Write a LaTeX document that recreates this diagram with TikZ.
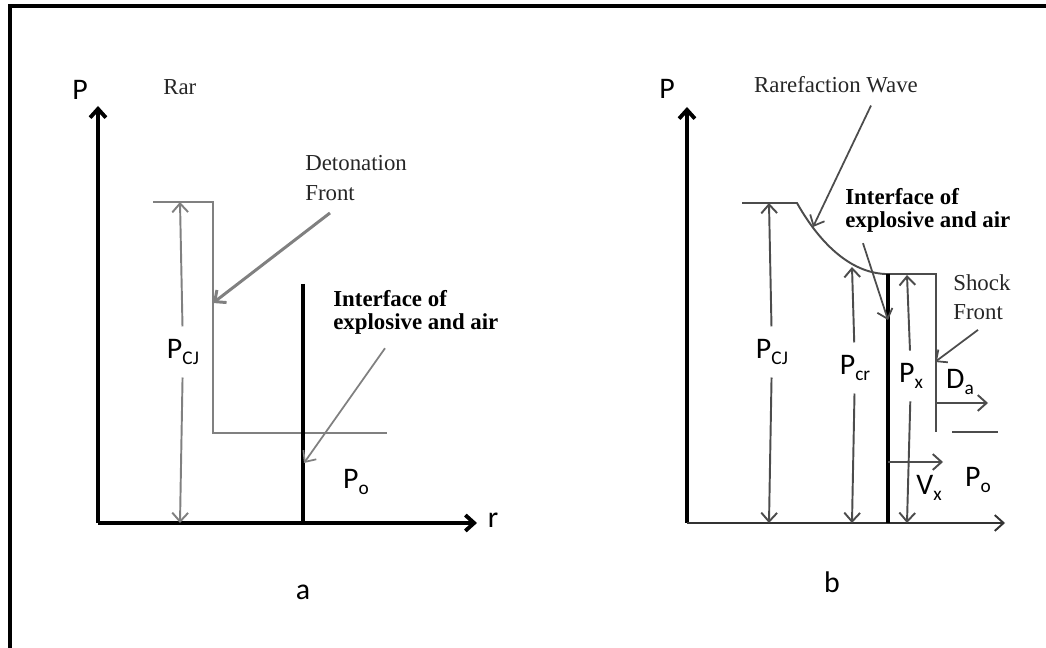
\documentclass[tikz,border=0pt]{standalone}
\usepackage{fontspec}
\setmainfont{Liberation Serif}
\setsansfont{Carlito}
\usetikzlibrary{arrows.meta}

% small lowered index for the pressure labels
\newcommand{\lsub}[1]{\raisebox{-0.45ex}{\fontsize{11}{11}\selectfont #1}}

\begin{document}
\begin{tikzpicture}[
    x=0.02cm, y=-0.02cm,
    every node/.style={inner sep=0pt},
    lbl/.style={font=\sffamily\fontsize{17}{19}\selectfont},
    gaplbl/.style={lbl, inner ysep=7pt},
    note/.style={font=\fontsize{13}{17}\selectfont, text=black!85, align=left},
    notebold/.style={font=\bfseries\fontsize{13}{13}\selectfont, align=left},
    tip/.style={-{Straight Barb[length=5pt,width=9pt]}},
    axis/.style={tip, line width=2.2pt},
    curveA/.style={gray, line width=1.1pt},
    curveB/.style={black!70, line width=1.1pt},
    dimA/.style={tip, gray, line width=1.1pt},
    dimB/.style={tip, black!70, line width=1.1pt},
    pointer/.style={tip, gray, line width=1pt}
]
\useasboundingbox (0,0) rectangle (1046,648);

% frame
\draw[line width=2pt] (10,648) -- (10,6) -- (1046,6);

% ---- panel a ----
\coordinate (oA) at (98,523);
\draw[axis] (oA) -- (98,106);
\draw[axis] (oA) -- (477,523);
\node[lbl] (ylabA) at (80,90) {P};
\node[lbl] (xlabA) at (493,520) {r};
\begin{scope}
  \clip (160,70) rectangle (195,105);
  \node[note, anchor=west] (rarA) at (163,87) {Rarefaction Wave};
\end{scope}

\draw[curveA] (153,202) -- (213,202) -- (213,433) -- (387,433);
\draw[line width=2.2pt] (303,284) -- (303,523);

\coordinate (cjtopA) at (180,202);
\coordinate (cjbotA) at (180,523);
\node[gaplbl] (pcjA) at (183,352) {P\lsub{CJ}};
\draw[dimA] (pcjA) -- (cjtopA);
\draw[dimA] (pcjA) -- (cjbotA);

\node[note, anchor=west] (detA) at (305,178) {Detonation\\Front};
\coordinate (detTip) at (213,303);
\draw[tip, gray, line width=1.7pt] ([shift={(25,12)}]detA.south west) -- (detTip);

\node[notebold, anchor=west] (ifaceA) at (333,312) {Interface of\\explosive and air};
\coordinate (ifaceTipA) at (304,463);
\draw[pointer] ([shift={(52,14)}]ifaceA.south west) -- (ifaceTipA);

\node[lbl] (poA) at (356,482) {P\lsub{o}};
\node[lbl] (capA) at (303,592) {a};

% ---- panel b ----
\coordinate (oB) at (687,523);
\draw[axis] (oB) -- (687,107);
\draw[tip, black!80, line width=1.1pt] (oB) -- (1005,523);
\node[lbl] (ylabB) at (667,89) {P};

\draw[curveB] (742,203) -- (797,203) .. controls (815,235) and (845,272) .. (885,274)
  -- (936,274) -- (936,432);
\draw[curveB] (952,432) -- (998,432);
\draw[line width=2.2pt] (888,274) -- (888,523);

\coordinate (cjtopB) at (769,203);
\coordinate (cjbotB) at (769,523);
\node[gaplbl] (pcjB) at (772,352) {P\lsub{CJ}};
\draw[dimB] (pcjB) -- (cjtopB);
\draw[dimB] (pcjB) -- (cjbotB);

\coordinate (crtopB) at (852,267);
\coordinate (crbotB) at (852,523);
\node[gaplbl] (pcrB) at (855,368) {P\lsub{cr}};
\draw[dimB] (pcrB) -- (crtopB);
\draw[dimB] (pcrB) -- (crbotB);

\coordinate (xtopB) at (907,275);
\coordinate (xbotB) at (907,523);
\node[gaplbl] (pxB) at (911,376) {P\lsub{x}};
\draw[dimB] (pxB) -- (xtopB);
\draw[dimB] (pxB) -- (xbotB);

\coordinate (daStart) at (936,403);
\coordinate (daEnd) at (988,403);
\draw[dimB] (daStart) -- (daEnd);
\node[lbl] (daB) at (960,382) {D\lsub{a}};

\coordinate (vxStart) at (888,462);
\coordinate (vxEnd) at (943,462);
\draw[dimB] (vxStart) -- (vxEnd);
\node[lbl] (vxB) at (929,488) {V\lsub{x}};
\node[lbl] (poB) at (978,480) {P\lsub{o}};

\node[note] (rarB) at (836,85) {Rarefaction Wave};
\coordinate (rarTip) at (813,227);
\draw[pointer, black!70] ([shift={(35,12)}]rarB.south) -- (rarTip);

\node[notebold, anchor=west] (ifaceB) at (845,210) {Interface of\\explosive and air};
\coordinate (ifaceTipB) at (888,320);
\draw[pointer, black!70] ([shift={(18,11)}]ifaceB.south west) -- (ifaceTipB);

\node[note, anchor=west, font=\fontsize{13}{16.5}\selectfont] (shockB) at (953,297) {Shock\\Front};
\coordinate (shockTip) at (935,362);
\draw[pointer, black!70] ([shift={(25,10)}]shockB.south west) -- (shockTip);

\node[lbl] (capB) at (832,582) {b};
\end{tikzpicture}
\end{document}
